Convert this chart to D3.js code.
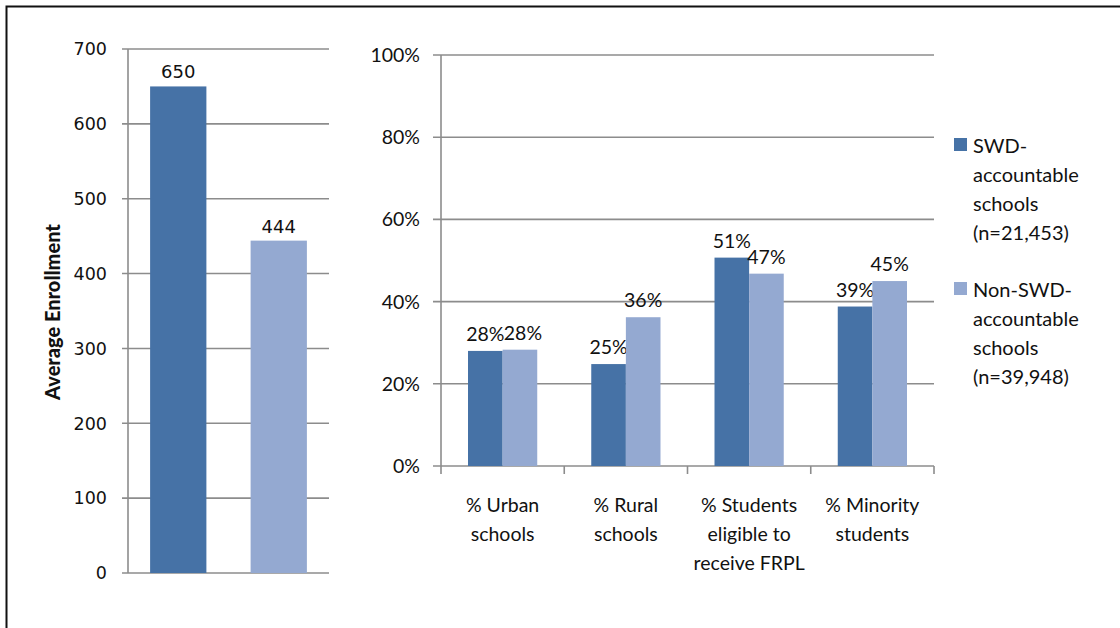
<!DOCTYPE html>
<html>
<head>
<meta charset="utf-8">
<script src="https://cdn.jsdelivr.net/npm/d3@7"></script>
<style>
  body { margin: 0; background: #fff; }
  svg { display: block; }
  .tick-left { font-family: "DejaVu Sans", sans-serif; font-size: 17.5px; fill: #111; }
  .calibri { font-family: Lato, "Open Sans", sans-serif; fill: #111; }
</style>
</head>
<body>
<svg id="chart" width="1120" height="628"></svg>
<script>
// enrollment panel
var enrollSeries = ['SWD-accountable', 'Non-SWD-accountable'];
var enrollValues = [650, 444];
var enrollTicks = [0, 100, 200, 300, 400, 500, 600, 700];

// characteristics panel
var categories = [
  ['% Urban', 'schools'],
  ['% Rural', 'schools'],
  ['% Students', 'eligible to', 'receive FRPL'],
  ['% Minority', 'students']
];
var swdValues = [28.0, 24.8, 50.7, 38.8];
var nonSwdValues = [28.3, 36.2, 46.8, 45.0];
var pctTicks = [0, 20, 40, 60, 80, 100];
var pctLabelsSwd = ['28%', '25%', '51%', '39%'];
var pctLabelsNon = ['28%', '36%', '47%', '45%'];

var legendItems = [
  ['SWD-', 'accountable', 'schools', '(n=21,453)'],
  ['Non-SWD-', 'accountable', 'schools', '(n=39,948)']
];
var colors = ['#4672a6', '#94a9d1'];
var gridColor = '#8c8c8c';

var svg = d3.select('#chart');

// outer frame (top and left edges visible)
svg.append('path')
  .attr('d', 'M6.5 628 L6.5 6.5 L1120 6.5')
  .attr('fill', 'none')
  .attr('stroke', '#111')
  .attr('stroke-width', 2);

// ---------- left panel ----------
var yL = d3.scaleLinear().domain([0, 700]).range([573, 49]);
var xL = d3.scaleBand().domain(enrollSeries).range([128, 329]).paddingInner(0.44).paddingOuter(0.22);

var left = svg.append('g');

left.selectAll('line.grid')
  .data(enrollTicks)
  .enter().append('line')
  .attr('x1', 122).attr('x2', 329)
  .attr('y1', function(d) { return yL(d); })
  .attr('y2', function(d) { return yL(d); })
  .attr('stroke', gridColor).attr('stroke-width', 1.6);

left.append('line')
  .attr('x1', 128).attr('x2', 128)
  .attr('y1', yL(700)).attr('y2', yL(0))
  .attr('stroke', gridColor).attr('stroke-width', 1.6);

left.selectAll('text.tick')
  .data(enrollTicks)
  .enter().append('text')
  .attr('class', 'tick-left')
  .attr('x', 107)
  .attr('y', function(d) { return yL(d); })
  .attr('dy', '0.36em')
  .attr('text-anchor', 'end')
  .text(function(d) { return d; });

left.selectAll('rect.bar')
  .data(enrollValues)
  .enter().append('rect')
  .attr('x', function(d, i) { return xL(enrollSeries[i]); })
  .attr('width', xL.bandwidth())
  .attr('y', function(d) { return yL(d); })
  .attr('height', function(d) { return yL(0) - yL(d); })
  .attr('fill', function(d, i) { return colors[i]; });

left.selectAll('text.val')
  .data(enrollValues)
  .enter().append('text')
  .attr('class', 'tick-left')
  .style('font-size', '18px')
  .attr('x', function(d, i) { return xL(enrollSeries[i]) + xL.bandwidth() / 2; })
  .attr('y', function(d) { return yL(d) - 8; })
  .attr('text-anchor', 'middle')
  .text(function(d) { return d; });

left.append('text')
  .attr('class', 'calibri')
  .attr('transform', 'translate(53,312) rotate(-90)')
  .attr('text-anchor', 'middle')
  .attr('dy', '0.35em')
  .style('font-size', '20px')
  .style('font-weight', '900')
  .text('Average Enrollment');

// ---------- right panel ----------
var yR = d3.scaleLinear().domain([0, 100]).range([466, 55]);
var x0 = d3.scaleBand().domain(d3.range(categories.length)).range([441, 934]);
var x1 = d3.scaleBand().domain([0, 1]).range([0, x0.bandwidth()]).paddingOuter(0.78);

var right = svg.append('g');

right.selectAll('line.grid')
  .data(pctTicks)
  .enter().append('line')
  .attr('x1', 433).attr('x2', 934)
  .attr('y1', function(d) { return yR(d); })
  .attr('y2', function(d) { return yR(d); })
  .attr('stroke', gridColor).attr('stroke-width', 1.6);

right.append('line')
  .attr('x1', 441).attr('x2', 441)
  .attr('y1', yR(100)).attr('y2', yR(0) + 8)
  .attr('stroke', gridColor).attr('stroke-width', 1.6);

// category tick marks
right.selectAll('line.ctick')
  .data(d3.range(1, categories.length + 1))
  .enter().append('line')
  .attr('x1', function(d) { return x0.range()[0] + d * x0.step(); })
  .attr('x2', function(d) { return x0.range()[0] + d * x0.step(); })
  .attr('y1', yR(0)).attr('y2', yR(0) + 8)
  .attr('stroke', gridColor).attr('stroke-width', 1.6);

right.selectAll('text.tick')
  .data(pctTicks)
  .enter().append('text')
  .attr('class', 'calibri')
  .style('font-size', '19.5px')
  .attr('x', 420)
  .attr('y', function(d) { return yR(d); })
  .attr('dy', '0.36em')
  .attr('text-anchor', 'end')
  .text(function(d) { return d + '%'; });

var groups = right.selectAll('g.cat')
  .data(categories)
  .enter().append('g')
  .attr('transform', function(d, i) { return 'translate(' + x0(i) + ',0)'; });

var seriesVals = [swdValues, nonSwdValues];
var seriesLabels = [pctLabelsSwd, pctLabelsNon];

groups.each(function(c, i) {
  var g = d3.select(this);
  [0, 1].forEach(function(s) {
    var v = seriesVals[s][i];
    g.append('rect')
      .attr('x', x1(s))
      .attr('width', x1.bandwidth())
      .attr('y', yR(v))
      .attr('height', yR(0) - yR(v))
      .attr('fill', colors[s]);
    g.append('text')
      .attr('class', 'calibri')
      .style('font-size', '19.5px')
      .attr('x', x1(s) + x1.bandwidth() / 2 + (s === 1 && i === 0 ? 3 : 0))
      .attr('y', yR(v) - 10)
      .attr('text-anchor', 'middle')
      .text(seriesLabels[s][i]);
  });
  var t = g.append('text')
    .attr('class', 'calibri')
    .style('font-size', '19.5px')
    .attr('text-anchor', 'middle');
  c.forEach(function(line, k) {
    t.append('tspan')
      .attr('x', x0.bandwidth() / 2)
      .attr('y', 512 + k * 29)
      .text(line);
  });
});

// legend
var legend = svg.append('g');
var legendTop = [153, 297];
legendItems.forEach(function(item, i) {
  legend.append('rect')
    .attr('x', 954).attr('y', legendTop[i] - 15)
    .attr('width', 13).attr('height', 13)
    .attr('fill', colors[i]);
  var t = legend.append('text')
    .attr('class', 'calibri')
    .style('font-size', '20px');
  item.forEach(function(line, k) {
    t.append('tspan')
      .attr('x', 973)
      .attr('y', legendTop[i] + k * 29)
      .text(line);
  });
});
</script>
</body>
</html>
